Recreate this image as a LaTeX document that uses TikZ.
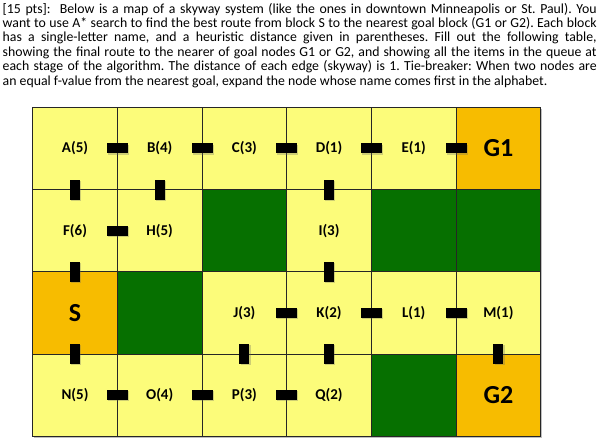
\documentclass[tikz,border=0pt]{standalone}
\usepackage{fontspec}
\setmainfont{Carlito}
\usetikzlibrary{shadows}
\definecolor{cellyellow}{RGB}{252,252,122}
\definecolor{cellgreen}{RGB}{6,112,0}
\definecolor{cellorange}{RGB}{247,188,0}
\tikzset{
  cell/.style={draw=black!85, line width=0.7pt, fill=cellyellow, minimum width=84.67pt, minimum height=82.3pt, inner sep=0pt,
    font=\bfseries\fontsize{15}{17}\selectfont},
  wall/.style={cell, fill=cellgreen},
  goal/.style={cell, fill=cellorange, font=\bfseries\fontsize{26}{28}\selectfont},
  barshadow/.style={drop shadow={shadow xshift=1.2pt, shadow yshift=-1.2pt, opacity=0.3, fill=black!60}},
  hbar/.style={fill=black, minimum width=21pt, minimum height=10pt, inner sep=0pt, barshadow},
  vbar/.style={fill=black, minimum width=10pt, minimum height=20pt, inner sep=0pt, barshadow},
}
\begin{document}
\begin{tikzpicture}[x=1pt, y=-1pt]
\useasboundingbox (0,0) rectangle (608,443);
\fill[white] (0,0) rectangle (608,443);
% question text
\node[anchor=north west, inner sep=0pt, text width=594pt, align=justify,
      font=\frenchspacing\fontsize{13.8}{14.45}\selectfont] (question) at (2.5,2.8)
{[15 pts]:\ \ Below is a map of a skyway system (like the ones in downtown Minneapolis or St.~Paul). You\linebreak
want to use A* search to find the best route from block S to the nearest goal block (G1 or G2). Each block\linebreak
has a single-letter name, and a heuristic distance given in parentheses. Fill out the following table,\linebreak
showing the final route to the nearer of goal nodes G1 or G2, and showing all the items in the queue at\linebreak
each stage of the algorithm. The distance of each edge (skyway) is 1. Tie-breaker: When two nodes are\linebreak
an equal f-value from the nearest goal, expand the node whose name comes first in the alphabet.};
% frame shadow
\fill[black!25] (34.2,108.8) rectangle (542.2,437.9);
% row 1
\node[cell] (A) at (75.0,148.4) {A(5)};
\node[cell] (B) at (159.7,148.4) {B(4)};
\node[cell] (C) at (244.4,148.4) {C(3)};
\node[cell] (D) at (329.0,148.4) {D(1)};
\node[cell] (E) at (413.7,148.4) {E(1)};
\node[goal] (G1) at (498.4,148.4) {G1};
% row 2
\node[cell] (F) at (75.0,230.7) {F(6)};
\node[cell] (H) at (159.7,230.7) {H(5)};
\node[wall] (W1) at (244.4,230.7) {};
\node[cell] (I) at (329.0,230.7) {I(3)};
\node[wall] (W2) at (413.7,230.7) {};
\node[wall] (W3) at (498.4,230.7) {};
% row 3
\node[goal] (S) at (75.0,313.0) {S};
\node[wall] (W4) at (159.7,313.0) {};
\node[cell] (J) at (244.4,313.0) {J(3)};
\node[cell] (K) at (329.0,313.0) {K(2)};
\node[cell] (L) at (413.7,313.0) {L(1)};
\node[cell] (M) at (498.4,313.0) {M(1)};
% row 4
\node[cell] (N) at (75.0,395.3) {N(5)};
\node[cell] (O) at (159.7,395.3) {O(4)};
\node[cell] (P) at (244.4,395.3) {P(3)};
\node[cell] (Q) at (329.0,395.3) {Q(2)};
\node[wall] (W5) at (413.7,395.3) {};
\node[goal] (G2) at (498.4,395.3) {G2};
% horizontal skyways
\foreach \a/\b in {A/B,B/C,C/D,D/E,E/G1,F/H,J/K,K/L,L/M,N/O,O/P,P/Q}
  \path (\a) -- (\b) node[midway, hbar] {};
% vertical skyways
\foreach \a/\b in {A/F,B/H,D/I,F/S,I/K,S/N,J/P,K/Q,M/G2}
  \path (\a) -- (\b) node[midway, vbar] {};
\end{tikzpicture}
\end{document}
